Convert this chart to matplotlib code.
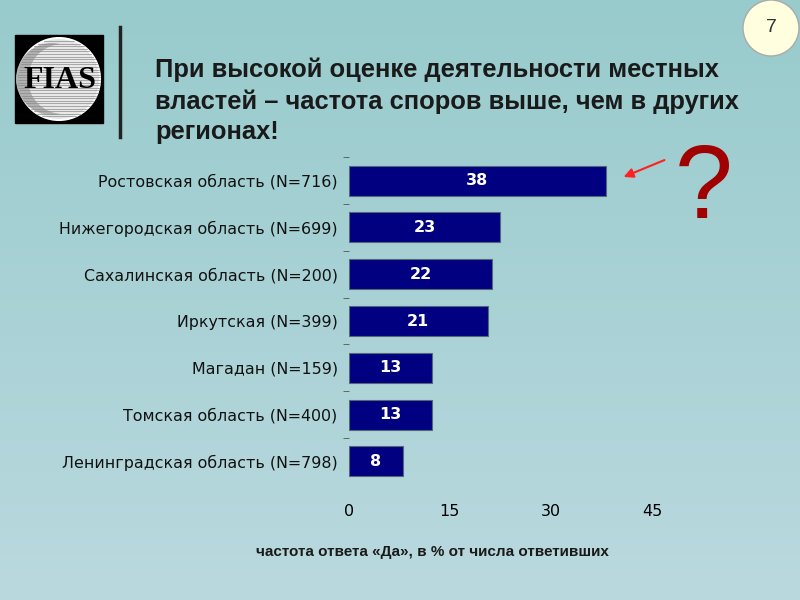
import numpy as np
import matplotlib
matplotlib.use('Agg')
import matplotlib.pyplot as plt
from matplotlib.patches import Rectangle, Circle, FancyArrowPatch

# data
regions = ["Ростовская область (N=716)", "Нижегородская область (N=699)",
           "Сахалинская область (N=200)", "Иркутская (N=399)",
           "Магадан (N=159)", "Томская область (N=400)",
           "Ленинградская область (N=798)"]
values = [38.2, 22.5, 21.3, 20.6, 12.4, 12.4, 8.0]   # bar lengths as drawn
labels = ["38", "23", "22", "21", "13", "13", "8"]    # printed values
xticks = [0, 15, 30, 45]

title = "При высокой оценке деятельности местных\nвластей – частота споров выше, чем в других\nрегионах!"
xlabel = "частота ответа «Да», в % от числа ответивших"

fig = plt.figure(figsize=(8, 6), dpi=100)

# background gradient
bg = fig.add_axes([0, 0, 1, 1], zorder=0)
grad = np.linspace(0, 1, 256).reshape(-1, 1)
top = np.array([152, 203, 204]) / 255
bot = np.array([186, 217, 223]) / 255
img = top + (bot - top) * grad[:, :, None]
bg.imshow(img, aspect='auto', extent=[0, 800, 600, 0])
bg.set_xlim(0, 800)
bg.set_ylim(600, 0)
bg.axis('off')

# logo
bg.add_patch(Rectangle((15, 35), 88, 88, color='black'))
bg.add_patch(Circle((59, 79), 41, facecolor='#e4e4e4', edgecolor='white', lw=1.5))
bg.add_patch(Circle((52, 79), 36, facecolor='#b0b0b0', edgecolor='none'))
bg.add_patch(Circle((63, 79), 35, facecolor='#e8e8e8', edgecolor='none'))
for yy in np.arange(41, 119, 2.6):
    dx = np.sqrt(max(41**2 - (yy - 79)**2, 0))
    bg.plot([59 - dx, 59 + dx], [yy, yy], color='#8a8a8a', lw=0.5)
bg.text(60, 80, "FIAS", fontsize=23, fontweight='bold', family='Liberation Serif',
        ha='center', va='center', color='black')
bg.plot([120, 120], [27, 137], color='#222222', lw=2.5)

# title
bg.text(155, 101, title, fontsize=18.4, fontweight='bold', family='Liberation Sans',
        ha='left', va='center', color='#1a1a1a', linespacing=1.34)

# page number
bg.add_patch(Circle((771, 28), 28, facecolor='#ffffe0', edgecolor='#aaaaaa', lw=1))
bg.text(771, 28, "7", fontsize=14, ha='center', va='center', color='#333333', family='Liberation Sans')

# question mark and arrow
bg.text(704, 191, "?", fontsize=75, color='#a00000', ha='center', va='center', family='Liberation Sans')
bg.add_patch(FancyArrowPatch((667, 159), (621, 178), arrowstyle='-|>', mutation_scale=14,
                             color='#ff2020', lw=1.5))

# bar chart
ax = fig.add_axes([0.436, 0.192, 0.379, 0.546], zorder=1)
ax.patch.set_alpha(0)
y = np.arange(len(regions))
ax.barh(y, values, height=0.64, color='#000080', edgecolor='#556677', lw=0.8)
for yi, v, lab in zip(y, values, labels):
    ax.text(v / 2, yi, lab, color='white', fontweight='bold', fontsize=11.5,
            ha='center', va='center')
ax.set_xlim(0, 45)
ax.set_ylim(len(regions) - 0.5, -0.5)
ax.set_yticks(y)
ax.set_yticklabels(regions, fontsize=11.4, color='#111111')
ax.set_yticks(np.arange(-0.5, len(regions) - 1), minor=True)
ax.tick_params(axis='y', which='major', length=0, pad=8)
ax.tick_params(axis='y', which='minor', length=4, color='#555555', width=0.6)
ax.set_xticks(xticks)
ax.tick_params(axis='x', length=0, pad=14, labelsize=11.5)
for s in ax.spines.values():
    s.set_visible(False)

bg.text(432, 552, xlabel, fontsize=11, fontweight='bold', family='Liberation Sans',
        ha='center', va='center', color='#1a1a1a')

fig.savefig('out.png', dpi=100)
